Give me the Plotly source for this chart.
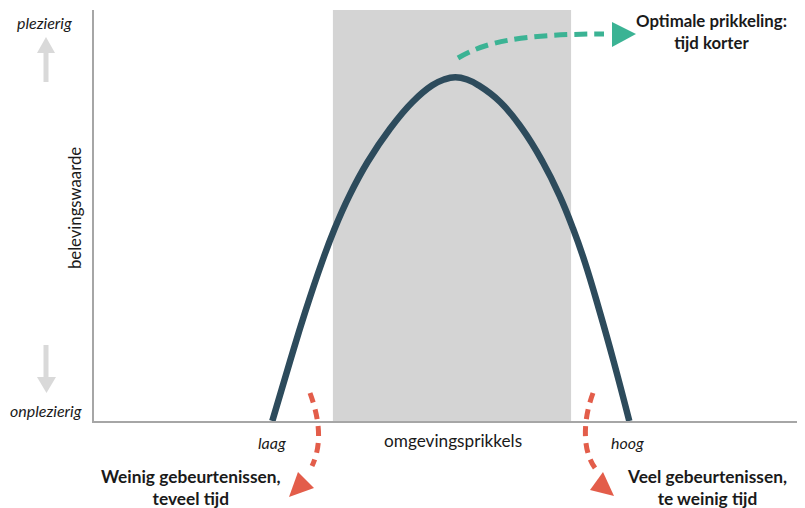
import plotly.graph_objects as go

# ---- data ----
curve_x = [25.08, 27.54, 29.70, 32.07, 33.84, 35.94, 38.48, 41.63, 44.80, 47.58, 49.23, 50.81,
           52.46, 54.08, 57.13, 60.21, 63.11, 65.46, 67.38, 69.03, 71.14, 73.11, 75.29]
curve_y = [0.0, 14.36, 26.52, 38.69, 46.79, 54.91, 63.02, 71.12, 77.62, 81.68, 83.09, 83.63,
           83.09, 81.68, 77.62, 71.12, 63.02, 54.91, 46.79, 38.69, 26.52, 14.36, 0.0]
optimal_zone = [33.6, 67.1]
x_range = [0, 100]
y_range = [0, 100]

y_top_label = "plezierig"
y_bottom_label = "onplezierig"
y_title = "belevingswaarde"
x_low_label = "laag"
x_high_label = "hoog"
x_title = "omgevingsprikkels"
note_low = "Weinig gebeurtenissen,<br>teveel tijd"
note_high = "Veel gebeurtenissen,<br>te weinig tijd"
note_opt = "Optimale prikkeling:<br>tijd korter"

# ---- layout geometry (screen pixels; page body has an 8px margin) ----
OFF = 8
W, H = 805 - OFF, 508 - OFF
PLOT_L, PLOT_R, PLOT_T, PLOT_B = 94, 805, 10, 421   # plot area in screen pixels
PW, PH = PLOT_R - PLOT_L, PLOT_B - PLOT_T
L, T = PLOT_L - OFF, PLOT_T - OFF
R, B = W - (PLOT_R - OFF), H - (PLOT_B - OFF)


def px(x):
    return (x - PLOT_L) / PW


def py(y):
    return (PLOT_B - y) / PH


def path(pts, close=False):
    s = ""
    for i, (a, b) in enumerate(pts):
        s += ("M" if i == 0 else "L") + f"{px(a):.5f},{py(b):.5f} "
    if close:
        s += "Z"
    return s


def bez(p0, c1, c2, p1):
    return (f"M{px(p0[0]):.5f},{py(p0[1]):.5f} C{px(c1[0]):.5f},{py(c1[1]):.5f} "
            f"{px(c2[0]):.5f},{py(c2[1]):.5f} {px(p1[0]):.5f},{py(p1[1]):.5f}")


FONT = "Lato"
TXT = "#1a1a1a"
RED = "#e35d4a"
GREEN = "#3bb394"
LIGHT = "#d9d9d9"

fig = go.Figure()
fig.add_trace(go.Scatter(x=curve_x, y=curve_y, mode="lines",
                         line=dict(color="#2d4b5c", width=6.5, shape="spline", smoothing=1.3),
                         hoverinfo="skip", showlegend=False))

shapes = []
# optimal zone
shapes.append(dict(type="rect", xref="x", yref="y", x0=optimal_zone[0], x1=optimal_zone[1], y0=y_range[0], y1=y_range[1],
                   fillcolor="#d4d4d4", line=dict(width=0), layer="below"))
# gray up/down arrows
shapes.append(dict(type="path", xref="paper", yref="paper", path=path([(43.5, 52), (48.5, 52), (48.5, 82), (43.5, 82)], close=True),
                   fillcolor=LIGHT, line=dict(width=0)))
shapes.append(dict(type="path", xref="paper", yref="paper", path=path([(37, 53), (55, 53), (46, 37)], close=True),
                   fillcolor=LIGHT, line=dict(width=0)))
shapes.append(dict(type="path", xref="paper", yref="paper", path=path([(43.5, 345), (48.5, 345), (48.5, 378), (43.5, 378)], close=True),
                   fillcolor=LIGHT, line=dict(width=0)))
shapes.append(dict(type="path", xref="paper", yref="paper", path=path([(37, 377), (56, 377), (46.5, 393)], close=True),
                   fillcolor=LIGHT, line=dict(width=0)))
# green dashed arrow
shapes.append(dict(type="path", xref="paper", yref="paper", path=bez((458, 58), (485, 42), (520, 34), (604, 34)),
                   line=dict(color=GREEN, width=5, dash="13px,7px")))
shapes.append(dict(type="path", xref="paper", yref="paper", path=path([(612, 22), (612, 47), (636, 34)], close=True),
                   fillcolor=GREEN, line=dict(width=0)))
# red dashed arrows
shapes.append(dict(type="path", xref="paper", yref="paper", path=bez((310, 393), (320, 420), (322, 445), (312, 466)),
                   line=dict(color=RED, width=5, dash="10px,7px")))
shapes.append(dict(type="path", xref="paper", yref="paper", path=path([(298, 472), (314, 488), (289, 497)], close=True),
                   fillcolor=RED, line=dict(width=0)))
shapes.append(dict(type="path", xref="paper", yref="paper", path=bez((593, 393), (583, 420), (582, 450), (595, 468)),
                   line=dict(color=RED, width=5, dash="10px,7px")))
shapes.append(dict(type="path", xref="paper", yref="paper", path=path([(603, 472), (590, 490), (614, 496)], close=True),
                   fillcolor=RED, line=dict(width=0)))


def ann(text, x, y, size=15, bold=False, italic=False, angle=0):
    t = text
    if italic:
        t = f"<i>{t}</i>"
    if bold:
        t = f"<b>{t}</b>"
    return dict(text=t, x=px(x), y=py(y), xref="paper", yref="paper", showarrow=False, textangle=angle,
                xanchor="center", yanchor="middle", align="center",
                font=dict(family=FONT, size=size, color=TXT))


annotations = [
    ann(y_top_label, 44, 23, size=16, italic=True),
    ann(y_bottom_label, 46, 410, size=16, italic=True),
    ann(y_title, 75, 208, size=16.7, angle=-90),
    ann(x_low_label, 272, 442, size=16, italic=True),
    ann(x_high_label, 627, 442, size=16, italic=True),
    ann(x_title, 453, 440, size=17.2),
    ann(note_low, 191, 488, size=17.3, bold=True),
    ann(note_high, 707, 488, size=17.3, bold=True),
    ann(note_opt, 711, 31, size=16.8, bold=True),
]

fig.update_layout(
    width=W, height=H,
    margin=dict(l=L, r=R, t=T, b=B),
    paper_bgcolor="white", plot_bgcolor="white",
    shapes=shapes, annotations=annotations,
    xaxis=dict(range=x_range, showgrid=False, zeroline=False, showticklabels=False, ticks="",
               showline=True, linecolor="#a6a6a6", linewidth=1.5, fixedrange=True),
    yaxis=dict(range=y_range, showgrid=False, zeroline=False, showticklabels=False, ticks="",
               showline=True, linecolor="#a6a6a6", linewidth=1.5, fixedrange=True),
    showlegend=False,
)
fig.write_html("out.html")
